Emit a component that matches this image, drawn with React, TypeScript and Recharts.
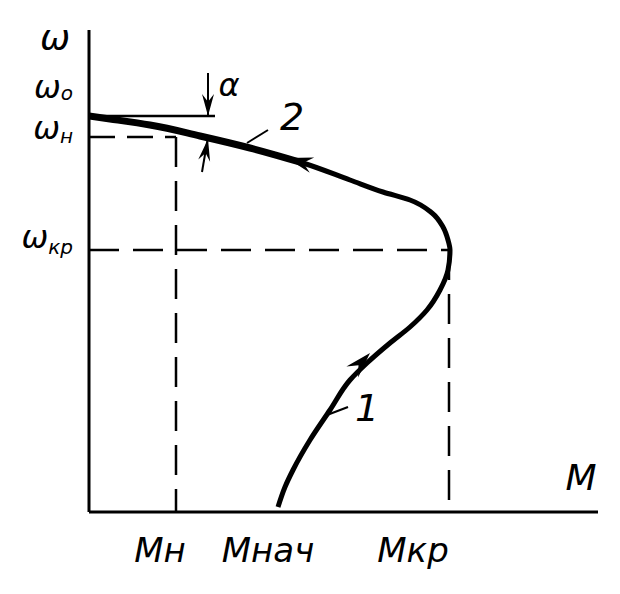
import React from 'react';
import { LineChart, Line, XAxis, YAxis, ReferenceLine, ReferenceDot } from 'recharts';

// characteristic curve (M, omega)
const curveM = [189, 196, 204, 221, 241, 261, 278, 301, 321, 338, 351, 359, 361, 359, 354, 343, 321, 294, 261, 214, 161, 111, 61, 21, 0];
const curveW = [5, 25, 42, 72, 102, 132, 149, 169, 185, 202, 222, 242, 262, 272, 285, 299, 312, 320, 332, 349, 364, 376, 387, 393, 396];

// thick upper branch (2)
const branchM = [214, 161, 111, 61, 21, 0];
const branchW = [349, 364, 376, 387, 393, 396];

const mTicks = [87, 191, 360];
const mLabels = ['Мн', 'Мнач', 'Мкр'];
const wTicks = [262, 375, 396];
const wLabels = ['кр', 'н', 'о'];

const M_N = 87, M_KR = 360, W_0 = 396, W_N = 375, W_KR = 262;

const curve = curveM.map((m, i) => ({ m, w: curveW[i] }));
const branch = branchM.map((m, i) => ({ m, w: branchW[i] }));

const font = "'DejaVu Sans', sans-serif";

const XTick = ({ x, y, payload }: any) => {
  const i = mTicks.indexOf(payload.value);
  const shift = [-16, -12, -36][i] ?? 0;
  return (
    <text x={x + shift} y={y + 42} textAnchor="middle" fontFamily={font} fontStyle="italic" fontSize={34} fill="#000">
      {mLabels[i]}
    </text>
  );
};

const YTick = ({ x, y, payload }: any) => {
  const i = wTicks.indexOf(payload.value);
  const dy = [-2, 2, -18][i] ?? 0;
  const sub = [6, 4, 2][i] ?? 4;
  return (
    <text x={x - 8} y={y + dy} textAnchor="end" fontFamily={font} fontStyle="italic" fontSize={32} fill="#000">
      ω<tspan fontSize={20} dy={sub}>{wLabels[i]}</tspan>
    </text>
  );
};

const Arrowhead = ({ cx, cy, angle, len = 26, half = 8 }: any) => (
  <g transform={`translate(${cx},${cy}) rotate(${angle})`}>
    <polygon points={`0,0 ${-len},${-half} ${-len * 0.65},0 ${-len},${half}`} fill="#000" />
  </g>
);

const Label = ({ cx, cy, text, size }: any) => (
  <text x={cx} y={cy} textAnchor="middle" dominantBaseline="middle" fontFamily={font} fontStyle="italic" fontSize={size} fill="#000">
    {text}
  </text>
);

export default function App() {
  return (
    <div style={{ position: 'absolute', left: 0, top: 0, width: 620, height: 594, background: '#fff' }}>
      <LineChart width={620} height={594} margin={{ top: 30, right: 22, left: 0, bottom: 0 }}>
        <XAxis
          dataKey="m"
          type="number"
          domain={[0, 509]}
          ticks={mTicks}
          interval={0}
          tick={<XTick />}
          tickLine={false}
          axisLine={{ stroke: '#000', strokeWidth: 3 }}
          height={82}
          allowDataOverflow
        />
        <YAxis
          dataKey="w"
          type="number"
          domain={[0, 482]}
          ticks={wTicks}
          interval={0}
          tick={<YTick />}
          tickLine={false}
          axisLine={{ stroke: '#000', strokeWidth: 3 }}
          width={89}
          allowDataOverflow
        />

        {/* dashed guides */}
        <ReferenceLine segment={[{ x: 0, y: W_N }, { x: M_N, y: W_N }]} stroke="#000" strokeWidth={2.5} strokeDasharray="26 12" />
        <ReferenceLine segment={[{ x: M_N, y: W_N }, { x: M_N, y: 0 }]} stroke="#000" strokeWidth={2.5} strokeDasharray="30 14" />
        <ReferenceLine segment={[{ x: 0, y: W_KR }, { x: M_KR, y: W_KR }]} stroke="#000" strokeWidth={2.5} strokeDasharray="30 14" />
        <ReferenceLine segment={[{ x: M_KR, y: W_KR }, { x: M_KR, y: 0 }]} stroke="#000" strokeWidth={2.5} strokeDasharray="30 14" />

        {/* omega0 level and alpha marks */}
        <ReferenceLine segment={[{ x: 0, y: W_0 }, { x: 126, y: W_0 }]} stroke="#000" strokeWidth={2.5} />
        <ReferenceLine segment={[{ x: 119, y: 439 }, { x: 119, y: W_0 }]} stroke="#000" strokeWidth={2} />
        <ReferenceLine segment={[{ x: 113, y: 340 }, { x: 119, y: W_N }]} stroke="#000" strokeWidth={2} />
        <ReferenceDot x={119} y={W_0} r={0} shape={(p: any) => <Arrowhead {...p} angle={90} len={22} half={6} />} />
        <ReferenceDot x={119} y={W_N - 2} r={0} shape={(p: any) => <Arrowhead {...p} angle={-80} len={22} half={6} />} />

        {/* leaders */}
        <ReferenceLine segment={[{ x: 158, y: 369 }, { x: 179, y: 382 }]} stroke="#000" strokeWidth={2} />
        <ReferenceLine segment={[{ x: 238, y: 97 }, { x: 259, y: 105 }]} stroke="#000" strokeWidth={2} />

        <Line data={curve} dataKey="w" type="monotoneY" stroke="#000" strokeWidth={5} dot={false} isAnimationActive={false} />
        <Line data={branch} dataKey="w" type="monotoneY" stroke="#000" strokeWidth={7} dot={false} isAnimationActive={false} />

        <ReferenceDot x={198} y={354} r={0} shape={(p: any) => <Arrowhead {...p} angle={-164} />} />
        <ReferenceDot x={281} y={159} r={0} shape={(p: any) => <Arrowhead {...p} angle={-47} />} />

        {/* text labels */}
        <ReferenceDot x={140} y={425} r={0} ifOverflow="visible" shape={(p: any) => <Label {...p} text="α" size={32} />} />
        <ReferenceDot x={203} y={393} r={0} ifOverflow="visible" shape={(p: any) => <Label {...p} text="2" size={38} />} />
        <ReferenceDot x={278} y={102} r={0} ifOverflow="visible" shape={(p: any) => <Label {...p} text="1" size={38} />} />
        <ReferenceDot x={-34} y={472} r={0} ifOverflow="visible" shape={(p: any) => <Label {...p} text="ω" size={36} />} />
        <ReferenceDot x={492} y={32} r={0} ifOverflow="visible" shape={(p: any) => <Label {...p} text="M" size={36} />} />
      </LineChart>
    </div>
  );
}
